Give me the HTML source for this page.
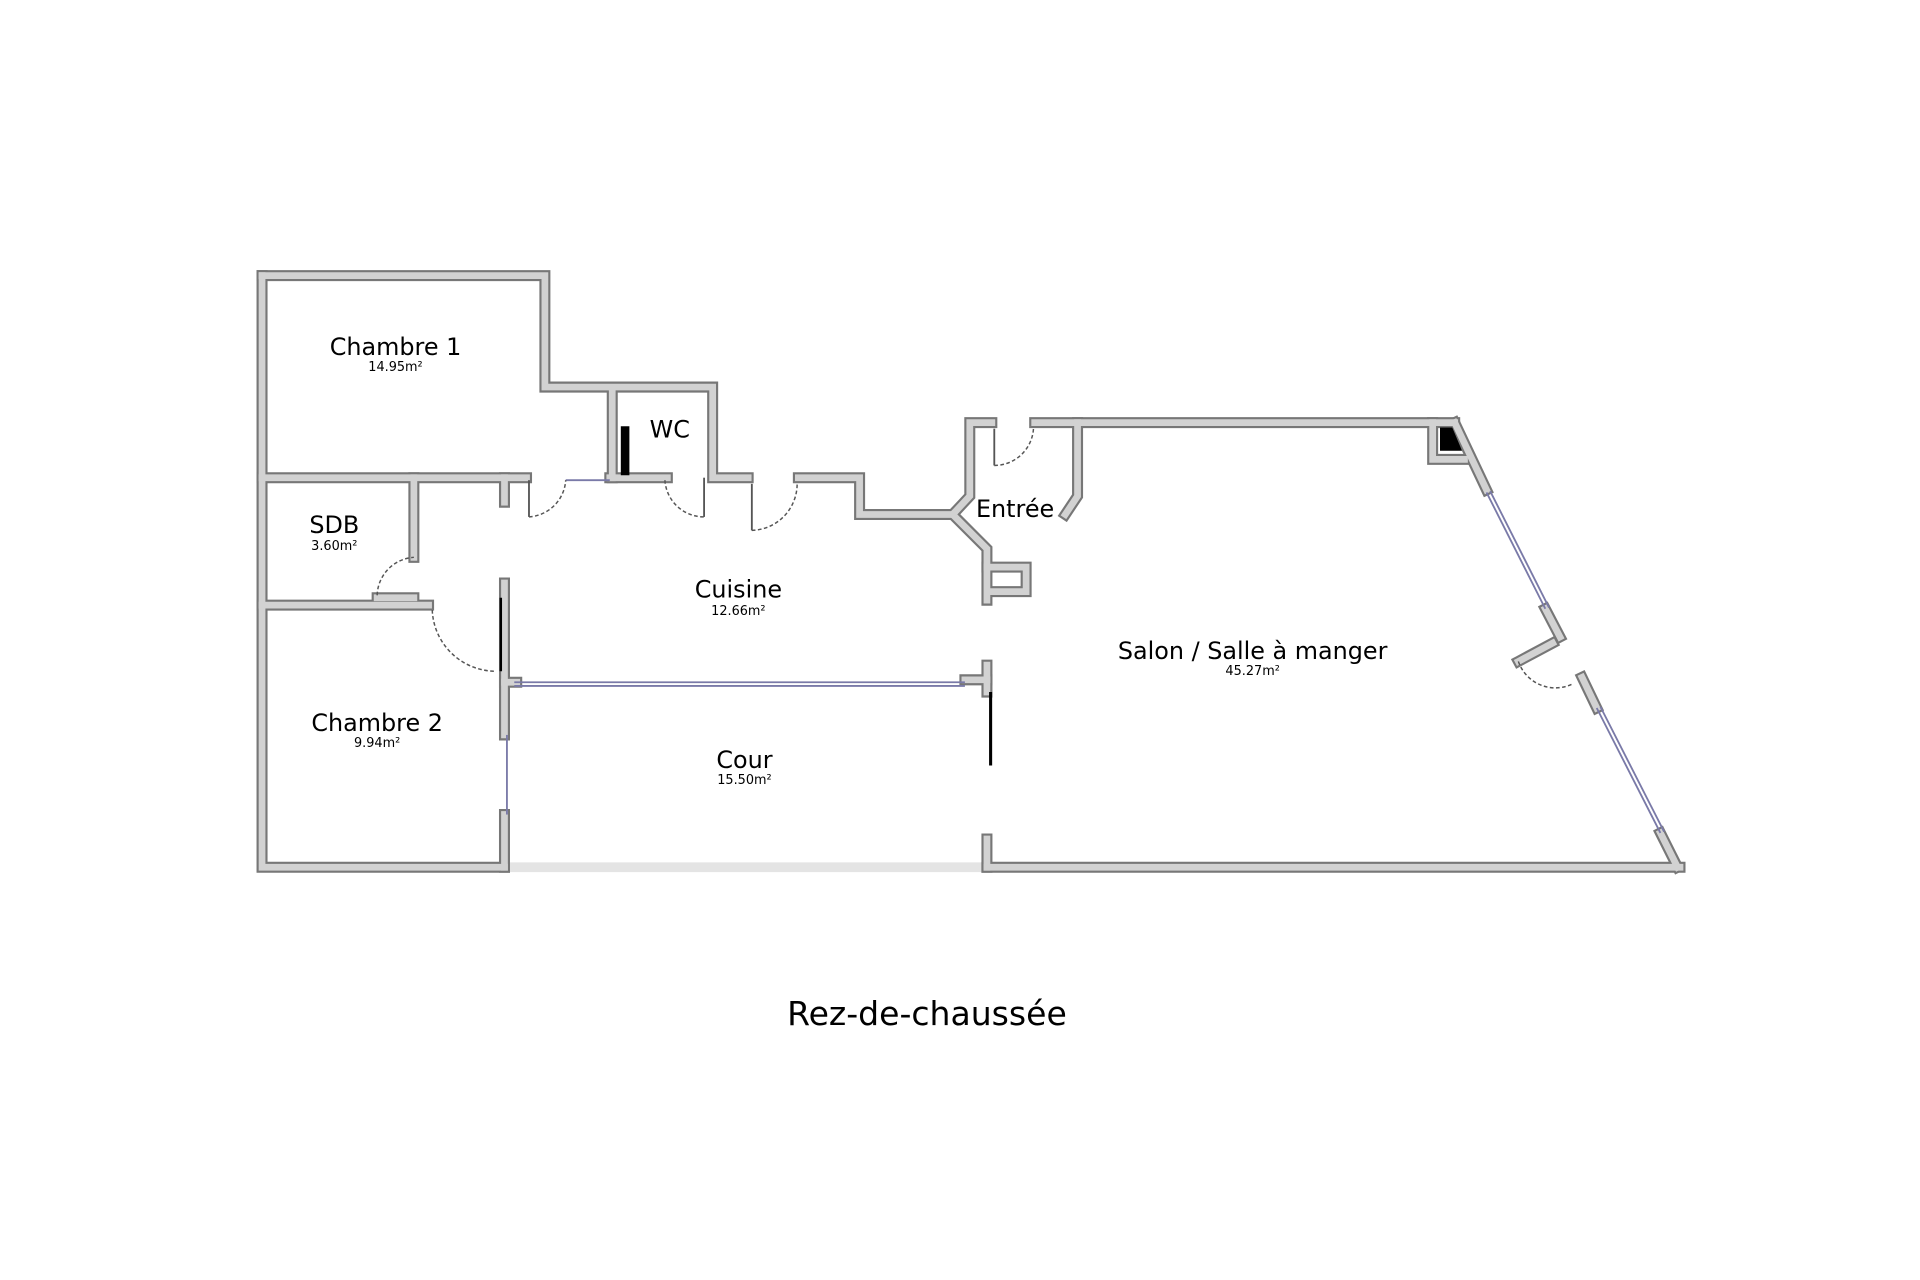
<!DOCTYPE html>
<html><head><meta charset="utf-8"><style>
html,body{margin:0;padding:0;background:#fff;}
svg{display:block}
text{font-family:"DejaVu Sans","Liberation Sans",sans-serif;fill:#000}
</style></head><body>
<svg width="1920" height="1280" viewBox="0 0 1568 1045" preserveAspectRatio="none" xmlns="http://www.w3.org/2000/svg">
<rect width="1568" height="1045" fill="#fff"/>
<defs>
<g id="walls" fill="none" stroke-linejoin="miter" stroke-linecap="square">
<polyline points="214,225 445,225 445,316 582,316 582,390 611,390"/>
<polyline points="652,390 702,390 702,420 778,420 792,405 792,345 810,345"/>
<polyline points="845,345 1188,345"/>
<polyline points="880,345 880,405 870,420"/>
<polyline points="778,420 806,448 806,490"/>
<polyline points="806,463 838,463 838,483 810,483"/>
<polyline points="214,225 214,708 412,708"/>
<polyline points="412,708 412,665"/>
<polyline points="412,600 412,476"/>
<polyline points="412,557 422,557"/>
<polyline points="806,708 1372,708"/>
<polyline points="806,708 806,685"/>
<polyline points="806,543 806,565"/>
<polyline points="788,555 806,555"/>
<polyline points="214,390 430,390"/>
<polyline points="412,390 412,410"/>
<polyline points="498,390 545,390"/>
<polyline points="500,390 500,320"/>
<polyline points="338,390 338,455"/>
<polyline points="214,494 350,494"/>
<polyline points="308,488 338,488"/>
<polyline points="1170,345 1170,375 1196,375"/>
<polyline points="1188,345 1214,400"/>
<polyline points="1262,497 1274,520"/>
<polyline points="1292,553 1304,578"/>
<polyline points="1356,680 1370,708"/>
<polyline points="1240,540 1268,525"/>
</g>
</defs>
<line x1="416" y1="708" x2="802" y2="708" stroke="#e4e4e4" stroke-width="8"/>
<use href="#walls" stroke="#777" stroke-width="9"/>
<use href="#walls" stroke="#d2d2d2" stroke-width="5.5"/>
<!-- windows -->
<g stroke="#7a7aa8" stroke-width="1.5" fill="none">
<line x1="462" y1="392" x2="498" y2="392"/>
<line x1="420" y1="557" x2="788" y2="557"/>
<line x1="420" y1="560" x2="788" y2="560"/>
<line x1="414" y1="600" x2="414" y2="665"/>
<line x1="1214" y1="402" x2="1262" y2="497"/>
<line x1="1217" y1="401" x2="1265" y2="496"/>
<line x1="1304" y1="578" x2="1356" y2="680"/>
<line x1="1307" y1="577" x2="1359" y2="679"/>
</g>
<!-- black elements -->
<rect x="507" y="348" width="7" height="40" fill="#000"/>
<polygon points="1176,349 1186,349 1194,368 1176,368" fill="#000"/>
<line x1="809" y1="565" x2="809" y2="625" stroke="#000" stroke-width="2.5"/>
<line x1="409" y1="488" x2="409" y2="548" stroke="#000" stroke-width="2"/>
<!-- door swings -->
<g stroke="#555" stroke-width="1.2" stroke-dasharray="3,2" fill="none">
<path d="M432,422 A32,32 0 0 0 462,392"/>
<path d="M543,392 A32,32 0 0 0 575,422"/>
<path d="M614,433 A38,38 0 0 0 651,395"/>
<path d="M812,380 A32,32 0 0 0 844,350"/>
<path d="M308,486 A32,32 0 0 1 338,455"/>
<path d="M353,498 A52,52 0 0 0 405,548"/>
<path d="M1240,540 A32,32 0 0 0 1285,558"/>
</g>
<g stroke="#555" stroke-width="1.5" fill="none">
<line x1="432" y1="392" x2="432" y2="422"/>
<line x1="575" y1="390" x2="575" y2="422"/>
<line x1="614" y1="395" x2="614" y2="433"/>
<line x1="812" y1="350" x2="812" y2="380"/>
</g>
<!-- labels -->
<text x="323" y="290" font-size="19.5" text-anchor="middle">Chambre 1</text>
<text x="323" y="303" font-size="10.5" text-anchor="middle">14.95m²</text>
<text x="547" y="357" font-size="19.5" text-anchor="middle">WC</text>
<text x="273" y="435" font-size="19.5" text-anchor="middle">SDB</text>
<text x="273" y="449" font-size="10.5" text-anchor="middle">3.60m²</text>
<text x="603" y="488" font-size="19.5" text-anchor="middle">Cuisine</text>
<text x="603" y="502" font-size="10.5" text-anchor="middle">12.66m²</text>
<text x="829" y="422" font-size="19.5" text-anchor="middle">Entrée</text>
<text x="1023" y="538" font-size="19.5" text-anchor="middle">Salon / Salle à manger</text>
<text x="1023" y="551" font-size="10.5" text-anchor="middle">45.27m²</text>
<text x="308" y="597" font-size="19.5" text-anchor="middle">Chambre 2</text>
<text x="308" y="610" font-size="10.5" text-anchor="middle">9.94m²</text>
<text x="608" y="627" font-size="19.5" text-anchor="middle">Cour</text>
<text x="608" y="640" font-size="10.5" text-anchor="middle">15.50m²</text>
<text x="757" y="837" font-size="27" text-anchor="middle">Rez-de-chaussée</text>
</svg>
</body></html>
